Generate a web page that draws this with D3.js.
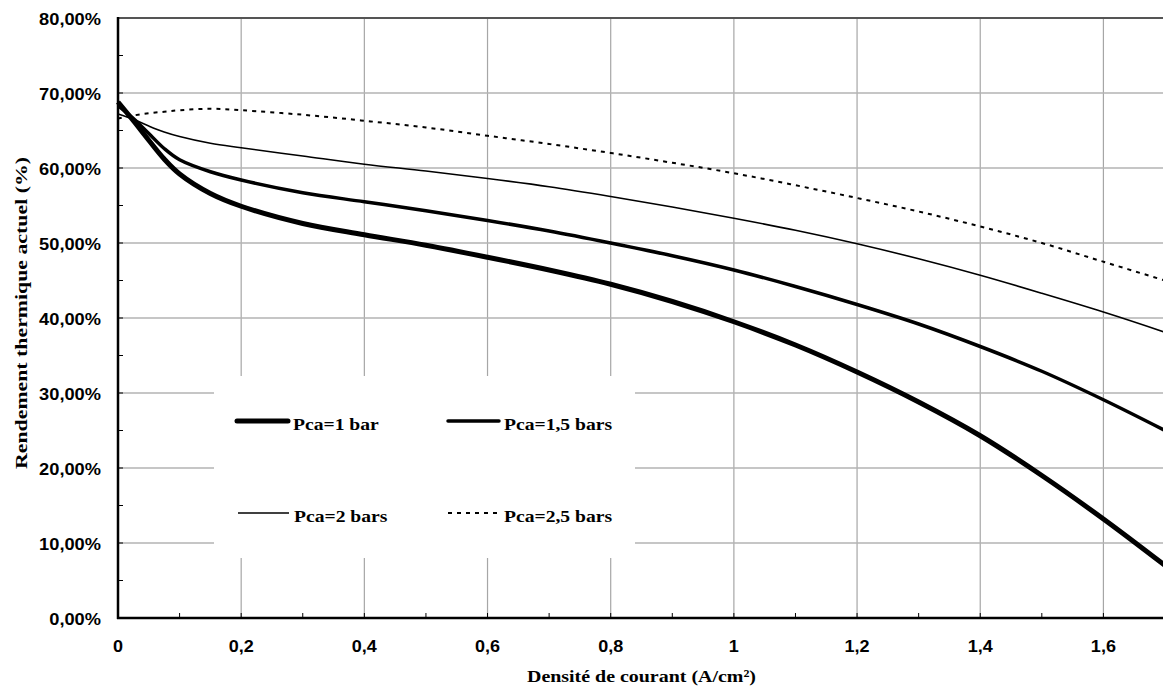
<!DOCTYPE html>
<html><head><meta charset="utf-8">
<script src="https://cdn.jsdelivr.net/npm/d3@7"></script>
<style>body{margin:0;background:#fff}svg{display:block}</style>
</head><body>
<svg id="c" width="1163" height="691"></svg>
<script>
const xValues = [0,0.025,0.05,0.075,0.1,0.15,0.2,0.3,0.4,0.5,0.6,0.7,0.8,0.9,1.0,1.1,1.2,1.3,1.4,1.5,1.6,1.7];
const pca1   = [68.8,66.3,63.7,61.2,59.2,56.6,54.9,52.6,51.1,49.7,48.1,46.4,44.5,42.2,39.5,36.4,32.8,28.8,24.3,19.0,13.2,7.0];
const pca15  = [68.3,66.6,64.6,62.6,61.1,59.5,58.4,56.7,55.5,54.3,53.0,51.6,50.0,48.3,46.4,44.2,41.8,39.2,36.2,32.9,29.1,25.0];
const pca2   = [67.2,66.5,65.6,64.8,64.2,63.3,62.7,61.6,60.5,59.6,58.6,57.5,56.2,54.8,53.3,51.7,49.9,47.9,45.7,43.3,40.8,38.1];
const pca25  = [66.6,67.0,67.3,67.5,67.7,67.9,67.7,67.1,66.3,65.4,64.3,63.2,62.0,60.7,59.3,57.7,56.0,54.2,52.2,50.0,47.5,45.0];
const seriesNames = ["Pca=1 bar","Pca=1,5 bars","Pca=2 bars","Pca=2,5 bars"];
const xTickValues = [0,0.2,0.4,0.6,0.8,1.0,1.2,1.4,1.6];
const xTickLabels = ["0","0,2","0,4","0,6","0,8","1","1,2","1,4","1,6"];
const yTickValues = [0,10,20,30,40,50,60,70,80];
const yTickLabels = ["0,00%","10,00%","20,00%","30,00%","40,00%","50,00%","60,00%","70,00%","80,00%"];
const xTitle = "Densité de courant (A/cm²)";
const yTitle = "Rendement thermique actuel (%)";

const svg = d3.select("#c");
const L = 118, R = 1165, T = 18, B = 618;
const x = d3.scaleLinear().domain([0,1.7]).range([L,R]);
const y = d3.scaleLinear().domain([0,80]).range([B,T]);

function stretch(sel, f){ sel.each(function(){ const w=this.getComputedTextLength(); d3.select(this).attr("textLength", w*f).attr("lengthAdjust","spacingAndGlyphs"); }); }

// gridlines
const g = svg.append("g");
g.selectAll("line.v").data(xTickValues.filter(v=>v>0)).join("line")
  .attr("x1",d=>x(d)).attr("x2",d=>x(d)).attr("y1",T).attr("y2",B)
  .attr("stroke","#a6a6a6").attr("stroke-width",1.2);
g.selectAll("line.h").data(yTickValues.filter(v=>v>0)).join("line")
  .attr("x1",L).attr("x2",1163).attr("y1",d=>y(d)).attr("y2",d=>y(d))
  .attr("stroke",d=>d===80?"#555":"#b3b3b3").attr("stroke-width",d=>d===80?2:1.5);

// minor ticks
const xMinor = d3.range(0,17).map(i=>i/10+0.1).filter(v=>v<1.7);
g.selectAll("line.xm").data(xMinor).join("line")
  .attr("x1",d=>x(d)).attr("x2",d=>x(d)).attr("y1",B).attr("y2",B-5)
  .attr("stroke","#000").attr("stroke-width",1);
const yMinor = d3.range(1,16).map(i=>i*5);
g.selectAll("line.ym").data(yMinor).join("line")
  .attr("x1",L).attr("x2",L+5).attr("y1",d=>y(d)).attr("y2",d=>y(d))
  .attr("stroke","#000").attr("stroke-width",1);

// series
const line = d3.line().x(d=>x(d[0])).y(d=>y(d[1])).curve(d3.curveCatmullRom.alpha(0.5));
const styles = [
  {w:5, dash:null},
  {w:3.5, dash:null},
  {w:1.6, dash:null},
  {w:2, dash:"4,5"}
];
const allSeries = [pca1,pca15,pca2,pca25];
allSeries.forEach((s,i)=>{
  svg.append("path").datum(xValues.map((v,j)=>[v,s[j]]))
    .attr("d",line).attr("fill","none").attr("stroke","#000")
    .attr("stroke-width",styles[i].w).attr("stroke-dasharray",styles[i].dash)
    .attr("stroke-linejoin","round");
});

// axes lines
svg.append("line").attr("x1",L).attr("x2",L).attr("y1",T-1).attr("y2",B+1).attr("stroke","#000").attr("stroke-width",2.5);
svg.append("line").attr("x1",L-1).attr("x2",1163).attr("y1",B).attr("y2",B).attr("stroke","#000").attr("stroke-width",2.5);

// tick labels
const yl = svg.append("g").selectAll("text").data(yTickValues).join("text")
  .attr("x",101).attr("y",d=>y(d)+7).attr("text-anchor","end")
  .attr("font-family","Liberation Sans, Arial, sans-serif").attr("font-weight","bold").attr("font-size",16)
  .text((d,i)=>yTickLabels[i]);
stretch(yl,1.14);
const xl = svg.append("g").selectAll("text").data(xTickValues).join("text")
  .attr("x",d=>x(d)).attr("y",652).attr("text-anchor","middle")
  .attr("font-family","Liberation Sans, Arial, sans-serif").attr("font-weight","bold").attr("font-size",17)
  .text((d,i)=>xTickLabels[i]);
stretch(xl,1.06);

// titles
svg.append("text").attr("x",(L+R)/2).attr("y",682).attr("text-anchor","middle")
  .attr("font-family","Liberation Serif, Times New Roman, serif").attr("font-weight","bold").attr("font-size",17.5)
  .attr("textLength",229).attr("lengthAdjust","spacingAndGlyphs").text(xTitle);
svg.append("text").attr("transform","translate(27,313) rotate(-90)").attr("text-anchor","middle")
  .attr("font-family","Liberation Serif, Times New Roman, serif").attr("font-weight","bold").attr("font-size",17.5)
  .attr("textLength",312).attr("lengthAdjust","spacingAndGlyphs").text(yTitle);

// legend
const lg = svg.append("g");
lg.append("rect").attr("x",214).attr("y",376).attr("width",421).attr("height",182).attr("fill","#fff");
const legPos = [[237,421],[448,421],[238,513],[448,513]];
seriesNames.forEach((n,i)=>{
  const [lx,ly] = legPos[i];
  lg.append("line").attr("x1",lx).attr("x2",lx+51).attr("y1",ly).attr("y2",ly)
    .attr("stroke","#000").attr("stroke-width",styles[i].w).attr("stroke-dasharray",styles[i].dash)
    .attr("stroke-linecap",i<2?"round":"butt");
  const t = lg.append("text").attr("x",lx+56).attr("y",ly+9)
    .attr("font-family","Liberation Serif, Times New Roman, serif").attr("font-weight","bold").attr("font-size",17.5)
    .text(n);
  stretch(t,1.12);
});
</script>
</body></html>
